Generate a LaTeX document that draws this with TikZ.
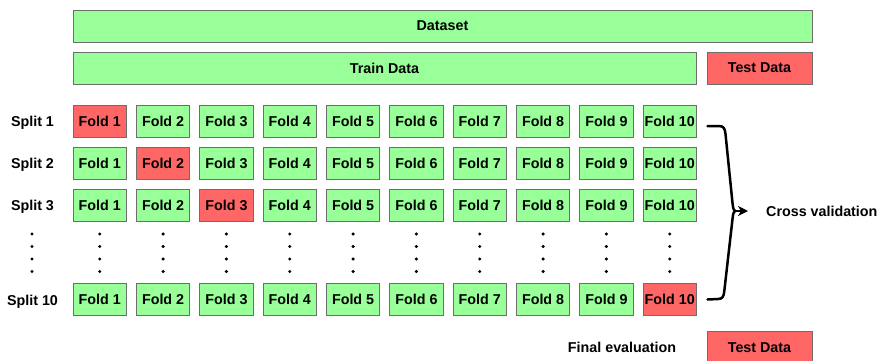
\documentclass[tikz,border=0pt]{standalone}
\usepackage{fontspec}
\setmainfont{Liberation Sans}
\usetikzlibrary{arrows.meta}
\definecolor{grn}{HTML}{99FF99}
\definecolor{rd}{HTML}{FF6666}
\definecolor{edge}{HTML}{6E6E6E}
\tikzset{
  lbl/.style={font=\fontsize{14.3pt}{16pt}\selectfont\bfseries, inner sep=0pt},
  box/.style={lbl, draw=edge, line width=1pt, minimum height=32pt},
  greenbox/.style={box, fill=grn},
  redbox/.style={box, fill=rd},
  fold/.style={box, minimum width=53.5pt},
  bracepath/.style={line width=2.5pt, line cap=round, line join=round},
}
\begin{document}
\begin{tikzpicture}[x=1pt,y=-1pt]
\useasboundingbox (0,0) rectangle (878,360);

% top bars
\node[greenbox, minimum width=739pt] (dataset) at (442.5,26) {Dataset};
\node[greenbox, minimum width=623pt] (train) at (384.5,68) {Train Data};
\node[redbox, minimum width=105pt] (test) at (759.5,68) {Test Data};

% split rows
\foreach \r/\y in {1/121,2/163,3/205,10/299.5} {
  \node[lbl, anchor=base] (s-\r) at (32.5,\y+5.5) {Split \r};
  \foreach \c in {1,...,10} {
    \pgfmathsetmacro\x{99.75+(\c-1)*63.333}
    \edef\fc{\ifnum\c=\r rd\else grn\fi}
    \node[fold, fill=\fc] (f-\r-\c) at (\x,\y) {Fold \c};
  }
}

% vertical ellipsis dots
\foreach \x in {32, 99.75, 163.08, 226.42, 289.75, 353.08, 416.42, 479.75, 543.08, 606.42, 669.75} {
  \foreach \y in {234, 246.5, 259, 271.5} {
    \fill (\x,\y) circle (1.7);
  }
}

% brace gathering the splits
\coordinate (bt) at ([xshift=10.5pt,yshift=-5pt]f-1-10.east);
\coordinate (bb) at ([xshift=10.5pt]f-10-10.east);
\coordinate (bm) at (735,211);
\coordinate (tip) at (748,211);
\draw[bracepath] (bt) -- (719,126) .. controls (723.5,126) and (725,128.5) .. (725.5,134)
  -- (732.5,203) .. controls (733,208.5) and (734,211) .. (bm);
\draw[bracepath] (bb) -- (718,299) .. controls (722.5,299) and (723.8,296.5) .. (724.3,291)
  -- (732.5,219) .. controls (733,213.5) and (734,211) .. (bm);
\draw[line width=2.5pt, -{Stealth[length=10pt,width=10pt,inset=3pt]}] (bm) -- (tip);
\node[lbl, anchor=west] (cv) at (766,211) {Cross validation};

% final evaluation
\node[lbl] (fe) at (622,347) {Final evaluation};
\node[redbox, minimum width=105pt] (test2) at (759.5,347.5) {Test Data};
\end{tikzpicture}
\end{document}
